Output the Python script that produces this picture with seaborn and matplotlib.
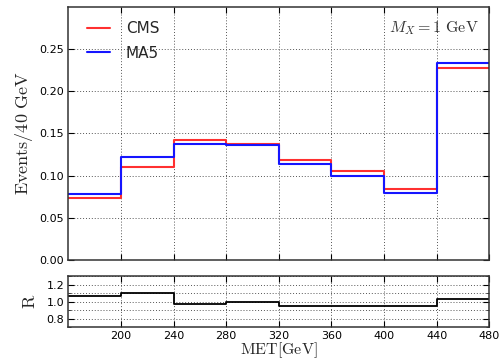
import matplotlib
matplotlib.use("Agg")
import matplotlib.pyplot as plt
import seaborn as sns
import numpy as np
from matplotlib.ticker import MultipleLocator, FormatStrFormatter

bin_edges = [160, 200, 240, 280, 320, 360, 400, 440, 480]
cms_values = [0.0734, 0.110, 0.142, 0.138, 0.119, 0.105, 0.0845, 0.228]
ma5_values = [0.078, 0.122, 0.138, 0.1365, 0.114, 0.099, 0.0798, 0.234]
ratio_values = [1.066, 1.104, 0.970, 0.993, 0.954, 0.950, 0.950, 1.028]
x_ticks = [200, 240, 280, 320, 360, 400, 440, 480]

sns.set_style("ticks")
plt.rcParams["font.family"] = ["DejaVu Sans"]
plt.rcParams["mathtext.fontset"] = "cm"

fig = plt.figure(figsize=(5, 3.62), dpi=100)
ax = fig.add_axes([0.1367, 0.282, 0.842, 0.699])
axr = fig.add_axes([0.1367, 0.096, 0.842, 0.1416])

centers = [(a + b) / 2 for a, b in zip(bin_edges[:-1], bin_edges[1:])]

sns.histplot(x=centers, weights=cms_values, bins=bin_edges, element="step",
             fill=False, color="#ff3030", linewidth=1.5, ax=ax)
sns.histplot(x=centers, weights=ma5_values, bins=bin_edges, element="step",
             fill=False, color="#1515ff", linewidth=1.5, ax=ax)
sns.histplot(x=centers, weights=ratio_values, bins=bin_edges, element="step",
             fill=False, color="black", linewidth=1.3, ax=axr)

lines = ax.get_lines()
ax.legend(lines[:2], ["CMS", "MA5"], loc="upper left", frameon=False,
          fontsize=11, handlelength=1.5, handletextpad=1.0, borderaxespad=0.3,
          bbox_to_anchor=(0.02, 0.985), labelspacing=0.6)

grid_kw = dict(color="#555555", linestyle=(0, (1, 2)), linewidth=0.7)
for a in (ax, axr):
    a.set_xlim(160, 480)
    a.set_xticks(x_ticks)
    a.tick_params(direction="in", top=True, right=True, length=4, width=0.8,
                  labelsize=8, colors="black", pad=3)
    a.grid(True, which="major", **grid_kw)
    for s in a.spines.values():
        s.set_linewidth(1.1)
        s.set_color("#333333")

ax.set_ylim(0, 0.30)
ax.set_yticks([0.0, 0.05, 0.10, 0.15, 0.20, 0.25])
ax.yaxis.set_major_formatter(FormatStrFormatter("%.2f"))
ax.tick_params(labelbottom=False)
ax.set_xlabel("")
ax.set_ylabel(r"$\mathrm{Events/40\ GeV}$", fontsize=13, labelpad=3)
ax.text(0.975, 0.95, r"$M_X = 1\ \mathrm{GeV}$", transform=ax.transAxes,
        ha="right", va="top", fontsize=11.5, color="#333333")

axr.set_ylim(0.7, 1.3)
axr.set_yticks([0.8, 1.0, 1.2])
axr.yaxis.set_minor_locator(MultipleLocator(0.1))
axr.yaxis.set_major_formatter(FormatStrFormatter("%.1f"))
axr.tick_params(which="minor", direction="in", right=True, length=2)
axr.grid(True, which="minor", axis="y", **grid_kw)
axr.set_ylabel(r"$\mathrm{R}$", fontsize=13, labelpad=5)
axr.set_xlabel(r"$\mathrm{MET[GeV]}$", fontsize=11.5, labelpad=-1)

fig.savefig("out.png", dpi=100)
